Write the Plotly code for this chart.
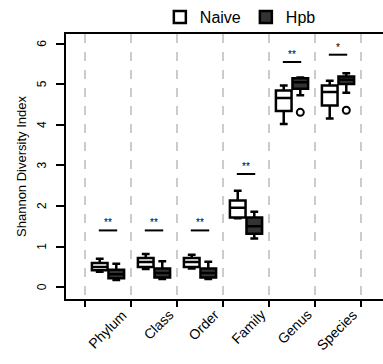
import plotly.graph_objects as go

categories = ["Phylum", "Class", "Order", "Family", "Genus", "Species"]
y_ticks = [0, 1, 2, 3, 4, 5, 6]

naive_q1 = [0.42, 0.50, 0.50, 1.72, 4.34, 4.48]
naive_med = [0.50, 0.62, 0.62, 1.96, 4.66, 4.81]
naive_q3 = [0.60, 0.72, 0.72, 2.14, 4.85, 4.97]
naive_lo = [0.38, 0.45, 0.46, 1.70, 4.02, 4.16]
naive_hi = [0.70, 0.82, 0.80, 2.38, 4.97, 5.09]

hpb_q1 = [0.22, 0.24, 0.24, 1.32, 4.89, 5.01]
hpb_med = [0.32, 0.35, 0.35, 1.50, 5.05, 5.11]
hpb_q3 = [0.43, 0.46, 0.46, 1.72, 5.15, 5.19]
hpb_lo = [0.18, 0.20, 0.20, 1.20, 4.73, 4.79]
hpb_hi = [0.58, 0.64, 0.63, 1.86, 5.17, 5.27]

hpb_outlier_cat = [4, 5]
hpb_outlier_val = [4.31, 4.36]

sig_y = [1.40, 1.40, 1.40, 2.79, 5.55, 5.73]
sig_text = ["**", "**", "**", "**", "**", "*"]

n = len(categories)
off = 0.18
naive_x = [i + 0.5 - off for i in range(n)]
hpb_x = [i + 0.5 + off for i in range(n)]

fig = go.Figure()
fig.add_trace(go.Box(
    name="Naive", x=naive_x, q1=naive_q1, median=naive_med, q3=naive_q3,
    lowerfence=naive_lo, upperfence=naive_hi, width=0.34, whiskerwidth=0.5,
    fillcolor="white", line=dict(color="black", width=2.5), boxpoints=False,
))
fig.add_trace(go.Box(
    name="Hpb", x=hpb_x, q1=hpb_q1, median=hpb_med, q3=hpb_q3,
    lowerfence=hpb_lo, upperfence=hpb_hi, width=0.34, whiskerwidth=0.5,
    fillcolor="#333333", line=dict(color="black", width=2.5), boxpoints=False,
))
fig.add_trace(go.Scatter(
    x=[c + 0.5 + off for c in hpb_outlier_cat], y=hpb_outlier_val, mode="markers",
    marker=dict(symbol="circle-open", size=7, color="black", line=dict(width=2)),
    showlegend=False, hoverinfo="skip",
))
for i in range(n):
    fig.add_trace(go.Scatter(
        x=[i + 0.3, i + 0.7], y=[sig_y[i], sig_y[i]], mode="lines",
        line=dict(color="black", width=2), showlegend=False, hoverinfo="skip",
    ))

annotations = []
for i in range(n):
    annotations.append(dict(
        x=i + 0.5, y=sig_y[i], xref="x", yref="y", text=sig_text[i],
        showarrow=False, yanchor="bottom", yshift=0,
        font=dict(size=10, color="black"),
    ))
for i, cat in enumerate(categories):
    annotations.append(dict(
        x=i + 1, y=0, xref="x", yref="paper", text=cat, textangle=-45,
        showarrow=False, xanchor="right", yanchor="top", xshift=2, yshift=-5,
        font=dict(size=14, color="black"),
    ))
for v in y_ticks:
    annotations.append(dict(
        x=0, y=v, xref="paper", yref="y", text=str(v), textangle=-90,
        showarrow=False, xanchor="right", yanchor="middle", xshift=-15,
        font=dict(size=12, color="black"),
    ))

fig.update_layout(
    width=383, height=364,
    margin=dict(l=66, r=0, t=29, b=65),
    paper_bgcolor="white", plot_bgcolor="white",
    font=dict(family="Liberation Sans, Arial, sans-serif", color="black"),
    showlegend=True,
    legend=dict(orientation="h", x=0.55, xanchor="center", y=1.0, yanchor="bottom",
                font=dict(size=16), itemwidth=30, tracegroupgap=0,
                bgcolor="rgba(0,0,0,0)"),
    annotations=annotations,
    xaxis=dict(
        range=[-0.413, 6.478], tickmode="array",
        tickvals=list(range(n + 1)), showticklabels=False,
        ticks="outside", ticklen=6, tickwidth=2, tickcolor="black",
        showgrid=True, gridcolor="#cccccc", griddash="dash", gridwidth=1.5,
        showline=True, linecolor="black", linewidth=2, mirror=True,
        zeroline=False,
    ),
    yaxis=dict(
        range=[-0.29, 6.24], tickmode="array", tickvals=y_ticks,
        showticklabels=False,
        ticks="outside", ticklen=8, tickwidth=2, tickcolor="black",
        showgrid=False, zeroline=False,
        showline=True, linecolor="black", linewidth=2,
        title=dict(text="Shannon Diversity Index", font=dict(size=13), standoff=26),
    ),
)

fig.write_html("out.html")
